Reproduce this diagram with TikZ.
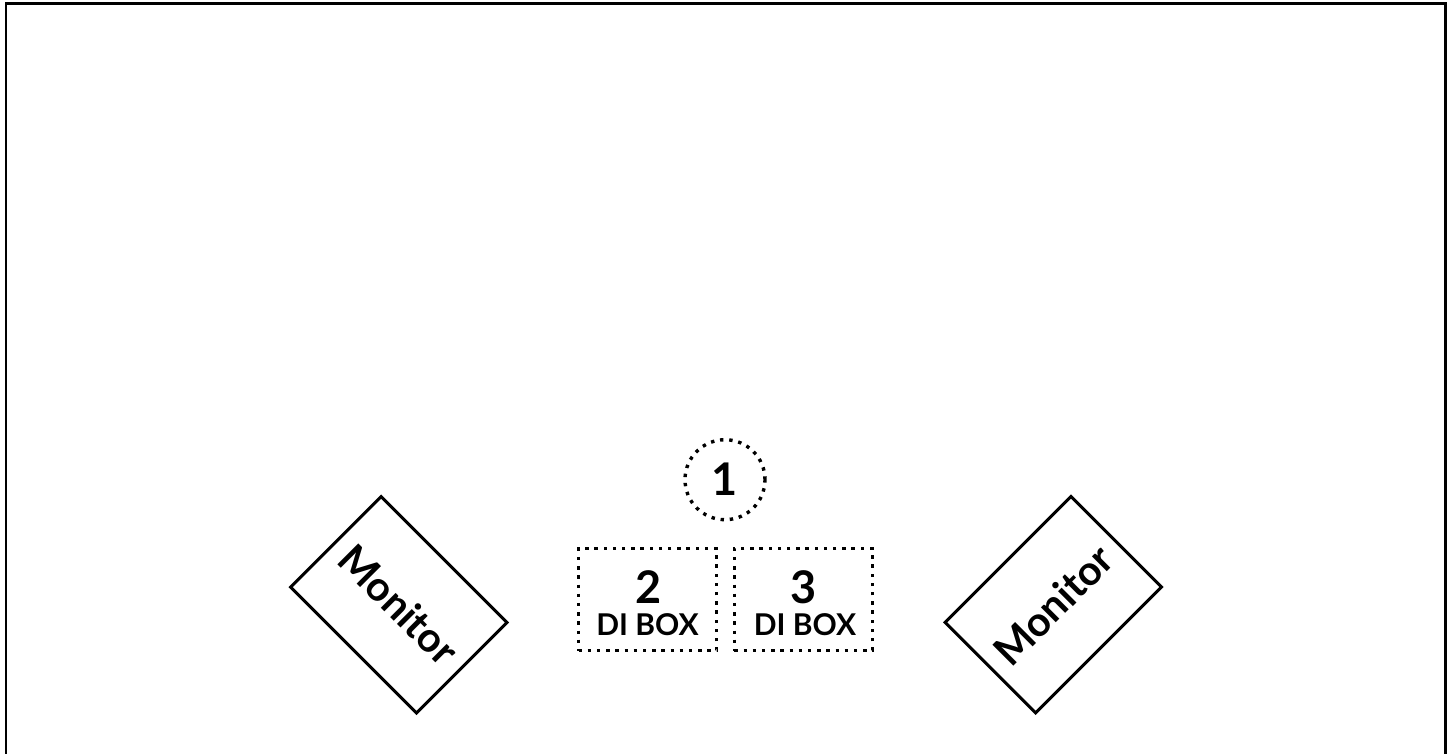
\documentclass[tikz,border=0pt]{standalone}
\usepackage{fontspec}
\setmainfont{Lato}
\begin{document}
\begin{tikzpicture}[x=1pt,y=-1pt,
  frame/.style={line width=2.8pt, line cap=butt},
  monitor/.style={draw, line width=3pt, minimum width=178pt, minimum height=128pt,
    inner sep=0pt, font=\fontsize{41}{41}\selectfont\bfseries},
  dots/.style={draw, line width=3.4pt, dash pattern=on 3.4pt off 5.8pt},
  dibox/.style={dots, minimum width=138pt, minimum height=102pt, inner sep=0pt},
  num/.style={font=\fontsize{45}{45}\selectfont\bfseries, inner sep=0pt},
  ditext/.style={font=\fontsize{30}{30}\selectfont\bfseries, inner sep=0pt}]
\useasboundingbox (0,0) rectangle (1452,753);
\coordinate (fbl) at (6,760);
\coordinate (ftl) at (6,3.8);
\coordinate (ftr) at (1445.5,3.8);
\coordinate (fbr) at (1445.5,760);
\draw[frame] (fbl) -- (ftl) -- (ftr) -- (fbr);
\node[monitor, rotate=-45] (monL) at (398.8,604.7) {Monitor};
\node[monitor, rotate=45] (monR) at (1053.3,604.7) {Monitor};
\node[dots, circle, minimum size=80pt, inner sep=0pt, font=\fontsize{45}{45}\selectfont\bfseries] (one) at (725,479.7) {1};
\node[dibox] (box2) at (647.5,599.5) {};
\node[dibox] (box3) at (803.3,599.5) {};
\node[num, anchor=base] (two) at (649,603.3) {2};
\node[ditext, anchor=base] (di2) at (647.5,635) {DI BOX};
\node[num, anchor=base] (three) at (803.5,603.3) {3};
\node[ditext, anchor=base] (di3) at (805,635) {DI BOX};
\end{tikzpicture}
\end{document}
